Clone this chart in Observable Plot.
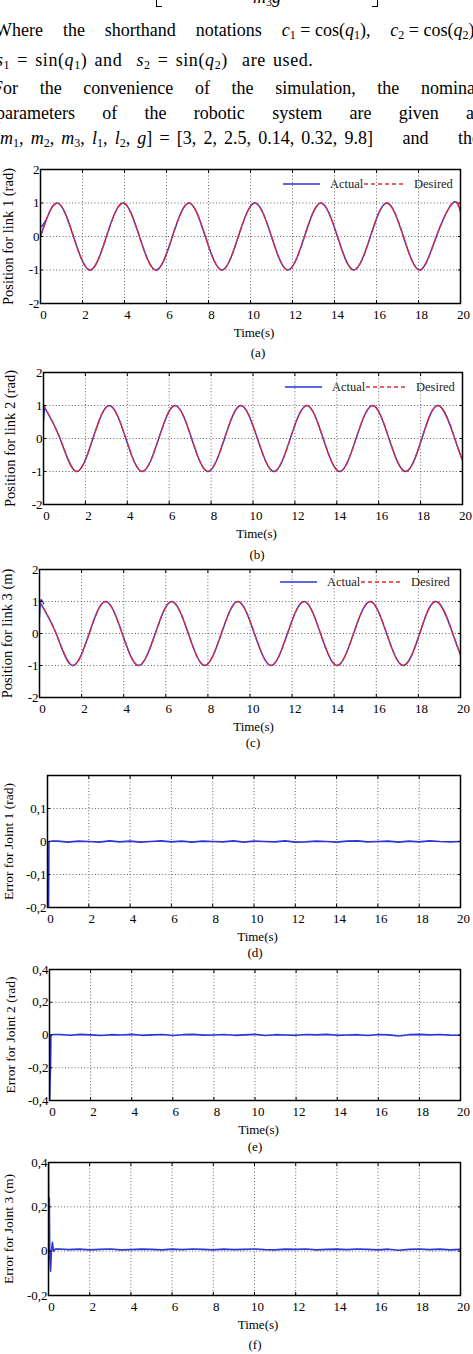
<!DOCTYPE html>
<html>
<head>
<meta charset="utf-8">
<script src="https://cdn.jsdelivr.net/npm/d3@7"></script>
<script src="https://cdn.jsdelivr.net/npm/@observablehq/plot@0.6"></script>
<style>
  html, body { margin: 0; padding: 0; background: #fff; }
  body { position: relative; width: 473px; height: 1354px; overflow: hidden;
         font-family: "Liberation Serif", "Times New Roman", serif; color: #000; }
  .line { position: absolute; font-size: 18px; line-height: 22px; height: 22px; white-space: nowrap; }
  .just { text-align: justify; text-align-last: justify; white-space: normal; overflow: hidden; }
  .math { display: inline-block; white-space: nowrap; }
  .line sub { font-size: 12px; vertical-align: -3px; line-height: 0; }
  .cap { position: absolute; width: 40px; text-align: center; font-size: 13px; line-height: 16px; }
  .legend { position: absolute; }
  .bracket { position: absolute; border-bottom: 1px solid #000; }
</style>
</head>
<body>

<!-- running text above the figure -->
<div class="bracket" style="left:156px; top:-10px; width:5px; height:16px; border-left:1px solid #000;"></div>
<div class="line" style="left:253px; top:-14px;"><i>m</i><sub>3</sub><i>g</i></div>
<div class="bracket" style="left:372px; top:-10px; width:5px; height:16px; border-right:1px solid #000;"></div>

<div class="line just" style="left:-5px; top:19px; width:484px;">Where the shorthand notations <span class="math"><i>c</i><sub>1</sub> = cos(<i>q</i><sub>1</sub>),</span> <span class="math"><i>c</i><sub>2</sub> = cos(<i>q</i><sub>2</sub>),</span></div>
<div class="line" style="left:-4px; top:49px; letter-spacing:0.6px; word-spacing:2px;"><i>s</i><sub>1</sub> = sin(<i>q</i><sub>1</sub>) and &nbsp;<i>s</i><sub>2</sub> = sin(<i>q</i><sub>2</sub>) &nbsp;are used.</div>
<div class="line just" style="left:-7px; top:77px; width:487px;">For the convenience of the simulation, the nominal</div>
<div class="line just" style="left:-4px; top:102px; width:485px;">parameters of the robotic system are given as</div>
<div class="line just" style="left:-6px; top:127px; width:486px;"><span class="math" style="width:379px; text-align:justify; text-align-last:justify;">[<i>m</i><sub>1</sub>, <i>m</i><sub>2</sub>, <i>m</i><sub>3</sub>, <i>l</i><sub>1</sub>, <i>l</i><sub>2</sub>, <i>g</i>] = [3, 2, 2.5, 0.14, 0.32, 9.8]</span> and the</div>

<script>
// ---------- data ----------
const timeTicks = [0, 2, 4, 6, 8, 10, 12, 14, 16, 18, 20];

// position references: zero crossings and extrema of each trajectory
const linkTime = [0, 0.79, 1.57, 2.36, 3.14, 3.93, 4.71, 5.5, 6.28, 7.07, 7.85, 8.64, 9.42, 10.21,
                  11, 11.78, 12.57, 13.35, 14.14, 14.92, 15.71, 16.49, 17.28, 18.06, 18.85, 19.63, 20];
const link1Desired = [0, 1, 0, -1, 0, 1, 0, -1, 0, 1, 0, -1, 0, 1, 0, -1, 0, 1, 0, -1, 0, 1, 0, -1, 0, 1, 0.75];
const link2Desired = [1, 0, -1, 0, 1, 0, -1, 0, 1, 0, -1, 0, 1, 0, -1, 0, 1, 0, -1, 0, 1, 0, -1, 0, 1, 0, -0.67];
const link3Desired = [1, 0, -1, 0, 1, 0, -1, 0, 1, 0, -1, 0, 1, 0, -1, 0, 1, 0, -1, 0, 1, 0, -1, 0, 1, 0, -0.67];

// start-up of the actual positions before they lock onto the reference
const link1StartTime = [0, 0.1, 0.25];
const link1Start = [0.3, 0.33, 0.48];
const link2StartTime = [0, 0.05];
const link2Start = [0.5, 1.0];
const link3StartTime = [0, 0.04, 0.1, 0.2];
const link3Start = [0.5, 0.95, 1.05, 0.93];

// tracking errors
const errorTime = [0.5, 1, 1.5, 2, 2.5, 3, 3.5, 4, 4.5, 5, 5.5, 6, 6.5, 7, 7.5, 8, 8.5, 9, 9.5, 10,
                   10.5, 11, 11.5, 12, 12.5, 13, 13.5, 14, 14.5, 15, 15.5, 16, 16.5, 17, 17.5, 18, 18.5, 19, 19.5, 20];
const joint1StartTime = [0, 0.05, 0.07, 0.2];
const joint1Start = [-0.22, -0.21, 0.0, 0.001];
const joint1Error = [0.001, -0.002, 0.001, 0.000, -0.002, 0.002, -0.001, 0.001, -0.002, 0.000,
                     0.002, -0.001, 0.001, -0.002, 0.001, 0.000, -0.001, 0.002, -0.002, 0.001,
                     0.000, -0.001, 0.002, -0.002, -0.001, 0.001, 0.000, -0.002, 0.001, 0.002,
                     -0.001, 0.000, 0.001, -0.002, 0.001, -0.001, 0.002, 0.000, -0.001, 0.000];
const joint2StartTime = [0, 0.03, 0.05, 0.07, 0.2];
const joint2Start = [-0.42, -0.27, -0.2, 0.0, 0.003];
const joint2Error = [0.003, -0.002, 0.004, 0.001, -0.003, 0.002, 0.000, 0.004, -0.002, 0.001,
                     0.003, -0.003, 0.002, 0.004, -0.001, 0.000, 0.003, -0.002, 0.001, 0.004,
                     -0.003, 0.002, 0.000, -0.002, 0.003, 0.001, 0.004, -0.002, 0.000, 0.002,
                     -0.003, 0.003, 0.001, -0.006, 0.002, 0.004, 0.001, 0.003, -0.001, -0.002];
const joint3StartTime = [0, 0.02, 0.04, 0.06, 0.1, 0.14, 0.19, 0.24, 0.32];
const joint3Start = [0.42, 0.0, 0.24, -0.02, -0.09, 0.0, 0.04, 0.0, 0.009];
const joint3Error = [0.010, 0.007, 0.009, 0.006, 0.008, 0.010, 0.006, 0.007, 0.009, 0.008,
                     0.006, 0.009, 0.007, 0.010, 0.008, 0.006, 0.009, 0.007, 0.008, 0.010,
                     0.007, 0.006, 0.009, 0.008, 0.010, 0.006, 0.008, 0.009, 0.007, 0.010,
                     0.008, 0.006, 0.009, 0.004, 0.008, 0.010, 0.007, 0.009, 0.006, 0.008];

// ---------- drawing ----------
const BLUE = "#2a36d8";
const RED = "#e42a36";
const W = 473;
const rows = (t, v) => t.map((x, i) => ({t: x, v: v[i]}));
const hyphenFormat = d => d === 0 ? "0" : String(d).replace(".", ",");

function panel(cfg) {
  const mt = 6, mb = 44;
  const grid = {stroke: "#666", strokeOpacity: 1, strokeDasharray: "1,2.2", strokeWidth: 1};
  const innerX = timeTicks.slice(1, -1);
  const chart = Plot.plot({
    width: W,
    height: cfg.bottom - cfg.top + mt + mb,
    marginTop: mt,
    marginBottom: mb,
    marginLeft: cfg.left,
    marginRight: W - cfg.right,
    x: {domain: [0, 20]},
    y: {domain: cfg.yDomain},
    style: {fontFamily: '"Liberation Serif", "Times New Roman", serif', fontSize: "13px",
            color: "#000", background: "none", overflow: "visible"},
    marks: [
      Plot.gridX(innerX, grid),
      Plot.gridY(cfg.yGrid, grid),
      ...cfg.series,
      Plot.axisX(timeTicks, {anchor: "bottom", tickSize: 0, tickPadding: 6, dx: 3, label: null}),
      Plot.axisX(timeTicks, {anchor: "bottom", tickSize: -3, fill: "none", label: null}),
      Plot.axisX(timeTicks, {anchor: "top", tickSize: -3, fill: "none", label: null}),
      Plot.axisY(cfg.yTicks, {anchor: "left", tickSize: 0, tickPadding: 1, tickFormat: hyphenFormat, label: null}),
      Plot.axisY(cfg.yTicks, {anchor: "left", tickSize: -3, fill: "none", label: null}),
      Plot.axisY(cfg.yTicks, {anchor: "right", tickSize: -3, fill: "none", label: null}),
      Plot.frame({stroke: "#000", strokeWidth: 1.5}),
      Plot.text(["Time(s)"], {text: d => d, frameAnchor: "bottom", lineAnchor: "middle",
                              textAnchor: "middle", dy: 29, dx: 3.5, fontSize: 13}),
      Plot.text([cfg.yLabel], {text: d => d, frameAnchor: "left", rotate: -90,
                               textAnchor: "middle", lineAnchor: "middle",
                               dx: cfg.yLabelX - cfg.left, fontSize: cfg.yLabelSize})
    ]
  });
  chart.style.position = "absolute";
  chart.style.left = "0px";
  chart.style.top = (cfg.top - mt) + "px";
  document.body.append(chart);

  const cap = document.createElement("div");
  cap.className = "cap";
  cap.textContent = cfg.caption;
  cap.style.left = (cfg.captionX - 20) + "px";
  cap.style.top = (cfg.captionY - 8) + "px";
  document.body.append(cap);

  if (cfg.legend) {
    const lg = document.createElement("div");
    lg.className = "legend";
    lg.style.left = (cfg.right - cfg.legend.fromRight) + "px";
    lg.style.top = (cfg.top + cfg.legend.fromTop - 10) + "px";
    lg.innerHTML =
      `<svg width="180" height="20" style="overflow:visible;font-family:'Liberation Serif','Times New Roman',serif;font-size:12.5px">
         <line x1="0" x2="37" y1="10" y2="10" stroke="${BLUE}" stroke-width="1.4"/>
         <text x="47" y="10" dy="0.35em" fill="#222">Actual</text>
         <line x1="81" x2="122" y1="10" y2="10" stroke="${RED}" stroke-width="1.4" stroke-dasharray="4,3"/>
         <text x="131" y="10" dy="0.35em" fill="#222">Desired</text>
       </svg>`;
    document.body.append(lg);
  }
}

function positionSeries(desired, startTime, start) {
  const ref = rows(linkTime, desired);
  return [
    Plot.line(ref, {x: "t", y: "v", stroke: BLUE, strokeWidth: 1.4, curve: "natural", clip: true}),
    Plot.line(rows(startTime, start), {x: "t", y: "v", stroke: BLUE, strokeWidth: 1.4, curve: "natural", clip: true}),
    Plot.line(ref, {x: "t", y: "v", stroke: RED, strokeWidth: 1.4, strokeDasharray: "5,3", curve: "natural", clip: true})
  ];
}

function errorSeries(startTime, start, values) {
  const data = rows(startTime.concat(errorTime), start.concat(values));
  return [Plot.line(data, {x: "t", y: "v", stroke: BLUE, strokeWidth: 1.6, clip: true})];
}

const posTicks = [-2, -1, 0, 1, 2];
const posGrid = [-1, 0, 1];

panel({top: 169, bottom: 303, left: 40, right: 460, yDomain: [-2, 2], yTicks: posTicks, yGrid: posGrid,
       yLabel: "Position for link 1 (rad)", yLabelX: 8, yLabelSize: 14.5,
       series: positionSeries(link1Desired, link1StartTime, link1Start),
       caption: "(a)", captionX: 258, captionY: 353, legend: {fromRight: 177, fromTop: 15}});

panel({top: 372, bottom: 504, left: 43, right: 462, yDomain: [-2, 2], yTicks: posTicks, yGrid: posGrid,
       yLabel: "Position for link 2 (rad)", yLabelX: 10, yLabelSize: 14.5,
       series: positionSeries(link2Desired, link2StartTime, link2Start),
       caption: "(b)", captionX: 257, captionY: 555, legend: {fromRight: 177, fromTop: 15}});

panel({top: 569, bottom: 697, left: 39, right: 460, yDomain: [-2, 2], yTicks: posTicks, yGrid: posGrid,
       yLabel: "Position for link 3 (m)", yLabelX: 7, yLabelSize: 14.5,
       series: positionSeries(link3Desired, link3StartTime, link3Start),
       caption: "(c)", captionX: 253, captionY: 743, legend: {fromRight: 180, fromTop: 13}});

panel({top: 775, bottom: 907, left: 47, right: 460, yDomain: [-0.2, 0.2], yTicks: [-0.2, -0.1, 0, 0.1],
       yGrid: [-0.1, 0, 0.1],
       yLabel: "Error for Joint 1 (rad)", yLabelX: 8, yLabelSize: 13.5,
       series: errorSeries(joint1StartTime, joint1Start, joint1Error),
       caption: "(d)", captionX: 255, captionY: 953});

panel({top: 969, bottom: 1100, left: 49, right: 460, yDomain: [-0.4, 0.4], yTicks: [-0.4, -0.2, 0, 0.2, 0.4],
       yGrid: [-0.2, 0, 0.2],
       yLabel: "Error for Joint 2 (rad)", yLabelX: 10, yLabelSize: 13.5,
       series: errorSeries(joint2StartTime, joint2Start, joint2Error),
       caption: "(e)", captionX: 255, captionY: 1147});

panel({top: 1162, bottom: 1295, left: 48, right: 460, yDomain: [-0.2, 0.4], yTicks: [-0.2, 0, 0.2, 0.4],
       yGrid: [0, 0.2],
       yLabel: "Error for Joint 3 (m)", yLabelX: 8, yLabelSize: 13.5,
       series: errorSeries(joint3StartTime, joint3Start, joint3Error),
       caption: "(f)", captionX: 255, captionY: 1345});
</script>
</body>
</html>
